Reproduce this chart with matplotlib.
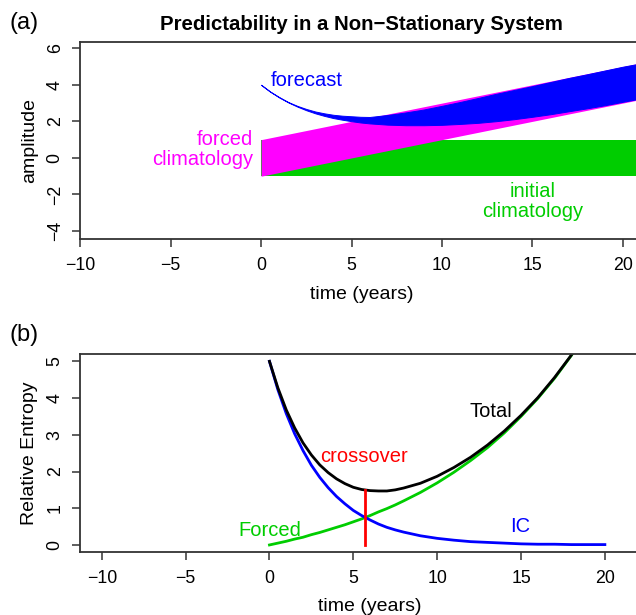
import matplotlib
matplotlib.use("Agg")
import matplotlib.pyplot as plt
import numpy as np

plt.rcParams['font.family'] = ['Liberation Sans', 'DejaVu Sans']

GREEN = '#00CD00'
MAGENTA = '#FF00FF'
BLUE = '#0000FF'

# ---- panel (a): climatologies and forecast band ----
init_t = [0, 21.1]
init_lo = [-1, -1]
init_hi = [1, 1]

forced_t = [0, 21.1]
forced_lo = [-1, 3.22]
forced_hi = [1, 5.22]

fc_t = [0, 0.5, 1, 1.5, 2, 2.5, 3, 3.5, 4, 4.5, 5, 5.5, 6, 7, 8, 9, 10,
        11, 12, 13, 14, 15, 16, 17, 18, 19, 20, 21.1]
fc_hi = [4.00, 3.63, 3.33, 3.06, 2.85, 2.68, 2.54, 2.44, 2.36, 2.31, 2.28, 2.25,
         2.24, 2.35, 2.49, 2.65, 2.85, 3.06, 3.28, 3.51, 3.72, 3.93, 4.15, 4.37,
         4.57, 4.78, 4.99, 5.19]
fc_lo = [4.00, 3.63, 3.31, 3.04, 2.81, 2.61, 2.44, 2.30, 2.18, 2.09, 2.01, 1.94,
         1.89, 1.82, 1.79, 1.79, 1.81, 1.86, 1.92, 2.01, 2.12, 2.25, 2.39, 2.55,
         2.71, 2.88, 3.07, 3.27]

# ---- panel (b): relative entropy ----
re_t = [0, 0.5, 1, 1.5, 2, 2.5, 3, 3.5, 4, 4.5, 5, 5.5, 6, 6.5, 7, 7.5, 8, 9, 10,
        11, 12, 13, 14, 15, 16, 17, 18, 19, 20]
re_ic = [5.0, 4.23, 3.58, 3.03, 2.57, 2.17, 1.84, 1.56, 1.32, 1.12, 0.94, 0.80,
         0.68, 0.57, 0.48, 0.41, 0.35, 0.25, 0.18, 0.13, 0.09, 0.07, 0.05, 0.03,
         0.02, 0.02, 0.01, 0.01, 0.01]
re_forced = [0.0, 0.05, 0.10, 0.16, 0.21, 0.28, 0.34, 0.41, 0.48, 0.55, 0.63, 0.71,
             0.80, 0.90, 0.99, 1.09, 1.20, 1.43, 1.69, 1.98, 2.30, 2.65, 3.05, 3.50,
             3.99, 4.54, 5.16, 5.85, 6.62]
re_total = [5.0, 4.28, 3.68, 3.19, 2.78, 2.45, 2.18, 1.97, 1.80, 1.67, 1.57, 1.51,
            1.48, 1.47, 1.47, 1.50, 1.55, 1.68, 1.87, 2.11, 2.39, 2.72, 3.10, 3.53,
            4.01, 4.56, 5.17, 5.86, 6.63]
crossover_t = 5.7
crossover_top = 1.5

W, H = 636, 615
fig = plt.figure(figsize=(W / 100, H / 100), dpi=100)


def style_axes(ax):
    for s in ax.spines.values():
        s.set_linewidth(1.3)
        s.set_color('#333333')
    ax.tick_params(direction='out', length=6, width=1.1, color='#333333',
                   labelsize=12.8, pad=7)
    ax.tick_params(axis='y', labelrotation=90, pad=6)
    for lab in ax.get_yticklabels():
        lab.set_va('center')


# panel (a)
ax1 = fig.add_axes([80.3 / W, 1 - 238.7 / H, 31.1 * 18.08 / W, 197.0 / H])
ax1.fill_between(init_t, init_lo, init_hi, color=GREEN, lw=0)
ax1.fill_between(forced_t, forced_lo, forced_hi, color=MAGENTA, lw=0)
ax1.fill_between(fc_t, fc_lo, fc_hi, facecolor=BLUE, edgecolor=BLUE, lw=0.7)
ax1.set_xlim(-10, 21.1)
ax1.set_ylim(-4.42, 6.36)
ax1.set_xticks([-10, -5, 0, 5, 10, 15, 20])
ax1.set_yticks([-4, -2, 0, 2, 4, 6])
style_axes(ax1)
ax1.set_xlabel('time (years)', fontsize=14, labelpad=9)
ax1.set_ylabel('amplitude', fontsize=14, labelpad=6)
ax1.text(2.5, 4.26, 'forecast', color=BLUE, fontsize=14.5, ha='center', va='center')
ax1.text(-0.45, 0.45, 'forced\nclimatology', color=MAGENTA, fontsize=14.5,
         ha='right', va='center', multialignment='right', linespacing=1.05)
ax1.text(15.0, -2.38, 'initial\nclimatology', color=GREEN, fontsize=14.5,
         ha='center', va='center', linespacing=1.05)
fig.text(361 / W, 1 - 24 / H, 'Predictability in a Non\u2212Stationary System',
         fontsize=14.7, fontweight='bold', ha='center', va='center')
fig.text(24 / W, 1 - 23 / H, '(a)', fontsize=17, ha='center', va='center')

# panel (b)
ax2 = fig.add_axes([80.3 / W, 1 - 552.3 / H, 34.56 * 16.77 / W, 198.3 / H])
ax2.plot(re_t, re_forced, color=GREEN, lw=2)
ax2.plot(re_t, re_ic, color=BLUE, lw=2)
ax2.plot(re_t, re_total, color='black', lw=2)
ax2.plot([crossover_t, crossover_t], [0, crossover_top], color='red', lw=2)
ax2.set_xlim(-11.28, 23.28)
ax2.set_ylim(-0.2, 5.2)
ax2.set_xticks([-10, -5, 0, 5, 10, 15, 20])
ax2.set_yticks([0, 1, 2, 3, 4, 5])
style_axes(ax2)
ax2.set_xlabel('time (years)', fontsize=14, labelpad=8)
ax2.set_ylabel('Relative Entropy', fontsize=14, labelpad=6)
ax2.text(5.66, 2.40, 'crossover', color='red', fontsize=14.5, ha='center', va='center')
ax2.text(13.2, 3.64, 'Total', color='black', fontsize=14.5, ha='center', va='center')
ax2.text(14.97, 0.49, 'IC', color=BLUE, fontsize=14.5, ha='center', va='center')
ax2.text(0.02, 0.40, 'Forced', color=GREEN, fontsize=14.5, ha='center', va='center')
fig.text(24 / W, 1 - 335 / H, '(b)', fontsize=17, ha='center', va='center')

fig.savefig('out.png', dpi=100)
